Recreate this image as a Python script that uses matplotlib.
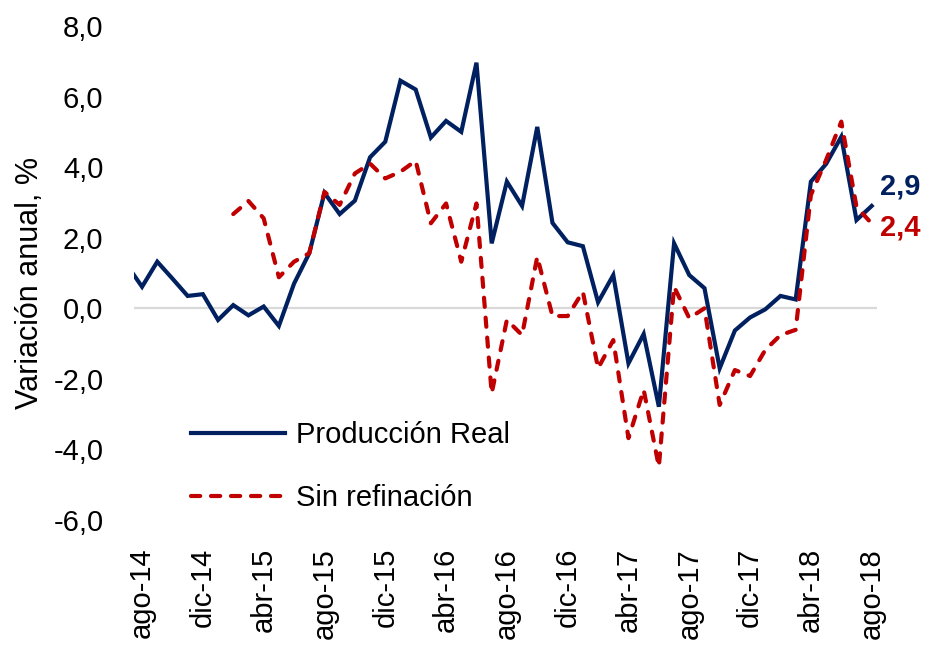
import matplotlib
matplotlib.use("Agg")
import matplotlib.pyplot as plt
import numpy as np

plt.rcParams['font.family'] = ['Liberation Sans', 'DejaVu Sans']

months = ["jul-14", "ago-14", "sep-14", "oct-14", "nov-14", "dic-14",
          "ene-15", "feb-15", "mar-15", "abr-15", "may-15", "jun-15", "jul-15", "ago-15", "sep-15", "oct-15", "nov-15", "dic-15",
          "ene-16", "feb-16", "mar-16", "abr-16", "may-16", "jun-16", "jul-16", "ago-16", "sep-16", "oct-16", "nov-16", "dic-16",
          "ene-17", "feb-17", "mar-17", "abr-17", "may-17", "jun-17", "jul-17", "ago-17", "sep-17", "oct-17", "nov-17", "dic-17",
          "ene-18", "feb-18", "mar-18", "abr-18", "may-18", "jun-18", "jul-18", "ago-18"]

produccion_real = [1.23,
                   0.61, 1.32, 0.84, 0.35, 0.40, -0.33, 0.09, -0.20, 0.05, -0.50, 0.70, 1.56,
                   3.27, 2.67, 3.05, 4.28, 4.72, 6.45, 6.20, 4.84, 5.31, 5.00, 6.96, 1.84,
                   3.59, 2.90, 5.14, 2.42, 1.87, 1.76, 0.17, 0.94, -1.56, -0.73, -2.79, 1.84,
                   0.94, 0.57, -1.70, -0.63, -0.26, -0.03, 0.35, 0.25, 3.59, 4.09, 4.86, 2.50, 2.90]

sin_refinacion = [np.nan, np.nan, np.nan, np.nan, np.nan, np.nan, np.nan,
                  2.67, 3.04, 2.55, 0.88, 1.32, 1.56, 3.30, 2.93, 3.82, 4.10, 3.68, 3.87,
                  4.18, 2.41, 2.97, 1.32, 2.97, -2.41, -0.33, -0.76, 1.46, -0.22, -0.22, 0.47,
                  -1.70, -0.90, -3.68, -2.31, -4.49, 0.61, -0.28, 0.00, -2.74, -1.75, -1.92,
                  -1.18, -0.76, -0.61, 3.21, 4.20, 5.29, 2.88, 2.40]

tick_labels = ["ago-14", "dic-14", "abr-15", "ago-15", "dic-15", "abr-16", "ago-16",
               "dic-16", "abr-17", "ago-17", "dic-17", "abr-18", "ago-18"]
y_ticks = [-6, -4, -2, 0, 2, 4, 6, 8]
y_tick_labels = ["-6,0", "-4,0", "-2,0", "0,0", "2,0", "4,0", "6,0", "8,0"]
end_label_real = "2,9"
end_label_sin = "2,4"

navy = "#002060"
red = "#C00000"

fig = plt.figure(figsize=(9.26, 6.47), dpi=100)
ax = fig.add_axes([134/926, 1-520/647, (877-134)/926, (520-26)/647])

x = np.arange(len(months))
ax.axhline(0, color="#D9D9D9", lw=1.6, zorder=1)
ax.plot(x, produccion_real, color=navy, lw=3.0, solid_joinstyle='miter', label="Producción Real", zorder=3)
ax.plot(x, sin_refinacion, color=red, lw=3.0, dashes=(2.2, 2.6), dash_capstyle='round',
        label="Sin refinación", zorder=4)

ax.set_xlim(0.47, 49.35)
ax.set_ylim(-6, 8)
ax.set_yticks(y_ticks)
ax.set_yticklabels(y_tick_labels, fontsize=21)
tick_pos = [months.index(t) for t in tick_labels]
ax.set_xticks(tick_pos)
ax.set_xticklabels(tick_labels, rotation=90, fontsize=21, va='top', ha='center')
ax.tick_params(axis='y', length=0, pad=22)
ax.tick_params(axis='x', length=0, pad=20)
for s in ax.spines.values():
    s.set_visible(False)

ax.set_ylabel("Variación anual, %", fontsize=22)
ax.yaxis.set_label_coords(-0.12, 0.48)

ax.annotate(end_label_real, xy=(x[-1], produccion_real[-1]), xytext=(6, 14), textcoords='offset points',
            color=navy, fontsize=21, fontweight='bold', va='center', ha='left', annotation_clip=False)
ax.annotate(end_label_sin, xy=(x[-1], sin_refinacion[-1]), xytext=(6, -3), textcoords='offset points',
            color=red, fontsize=21, fontweight='bold', va='center', ha='left', annotation_clip=False)

leg = ax.legend(loc='center left', bbox_to_anchor=(0.077, 0.108), frameon=False, fontsize=21,
                handlelength=3.2, handletextpad=0.4, labelspacing=1.2, borderpad=0, borderaxespad=0)

fig.savefig("out.png", dpi=100)
